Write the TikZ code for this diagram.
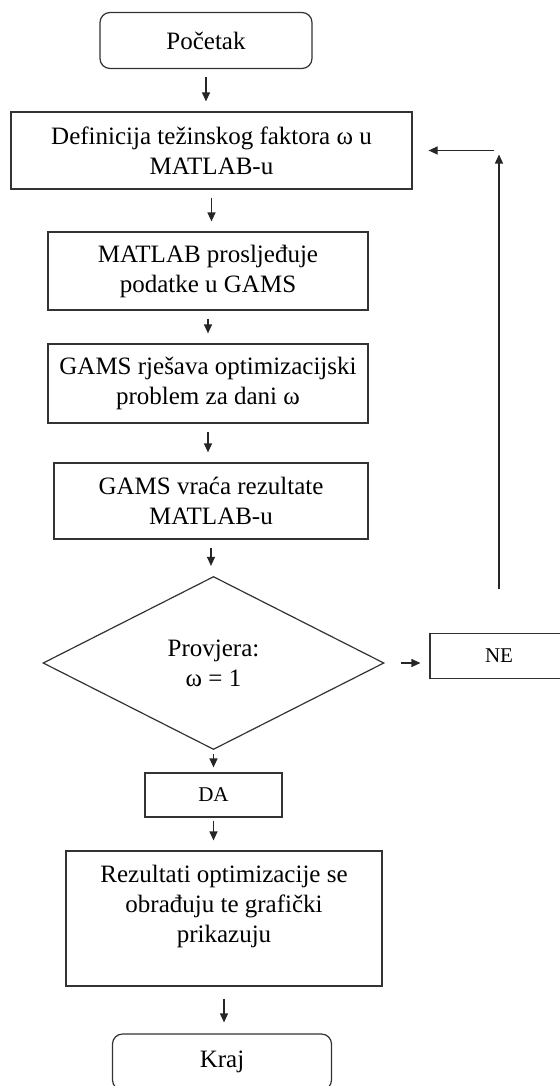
\documentclass[tikz,border=0pt]{standalone}
\usepackage{fontspec}
\setmainfont{Liberation Serif}
\usetikzlibrary{shapes.geometric,arrows.meta}

\begin{document}
\begin{tikzpicture}[x=0.5pt, y=-0.5pt,
  every node/.style={font=\fontsize{12.5}{15}\selectfont, align=center, inner sep=0pt, draw=black!80, line width=0.6pt},
  term/.style={rounded corners=5pt, minimum width=#1, minimum height=28pt},
  proc/.style={rectangle, minimum width=#1, minimum height=39pt},
  dec/.style={diamond, minimum width=170.5pt, minimum height=86.5pt},
  tag/.style={rectangle, font=\fontsize{10.5}{12}\selectfont, minimum width=69pt, minimum height=22.5pt},
  flow/.style={-{Triangle[length=4.5pt,width=4pt]}, line width=0.6pt, draw=black!85, shorten <=4pt, shorten >=5pt}]

  % page frame
  \useasboundingbox (0,0) rectangle (560,1086);
  \clip (0,0) rectangle (560,1086);

  % main column
  \node[term=106pt] (start) at (206,40.5) {Početak};
  \node[proc=200.5pt, minimum height=38.5pt] (def) at (211.5,150.5) {Definicija težinskog faktora ω u\\MATLAB-u};
  \node[proc=160pt] (send) at (208,271) {MATLAB prosljeđuje\\podatke u GAMS};
  \node[proc=160pt, minimum height=39.5pt] (solve) at (208,383.5) {GAMS rješava optimizacijski\\problem za dani ω};
  \node[proc=157pt, minimum height=38pt] (back) at (211,501) {GAMS vraća rezultate\\MATLAB-u};
  \node[dec] (check) at (213.5,663) {Provjera:\\ω = 1};
  \node[tag] (no) at (499,656) {NE};
  \node[tag, minimum width=68.5pt, minimum height=22pt] (yes) at (213.5,795) {DA};
  \node[proc=158pt, minimum height=67.5pt] (res) at (224,918.5) {Rezultati optimizacije se\\obrađuju te grafički\\prikazuju\\\mbox{}};
  \node[term=109.5pt] (stop) at (222,1062) {Kraj};

  % arrows down
  \draw[flow] (start.south) -- (start.south |- def.north);
  \draw[flow] (def.south) -- (def.south |- send.north);
  \draw[flow] (send.south) -- (send.south |- solve.north);
  \draw[flow] (solve.south) -- (solve.south |- back.north);
  \draw[flow] (back.south) -- (back.south |- check.north);
  \draw[flow, shorten <=2pt, shorten >=2.5pt] (check.south) -- (check.south |- yes.north);
  \draw[flow, shorten <=1.5pt] (yes.south) -- (yes.south |- res.north);
  \draw[flow, shorten <=6pt, shorten >=5.5pt] (res.south) -- (res.south |- stop.north);

  % loop back for NE
  \draw[flow, shorten <=8pt, shorten >=4.5pt] (check.east) -- (check.east -| no.west);
  \draw[flow, shorten <=22pt, shorten >=2pt] (no.north) -- (no.north |- def.east);
  \draw[flow, shorten <=2.5pt, shorten >=8pt] (no.north |- def.east) -- (def.east);

\end{tikzpicture}
\end{document}
